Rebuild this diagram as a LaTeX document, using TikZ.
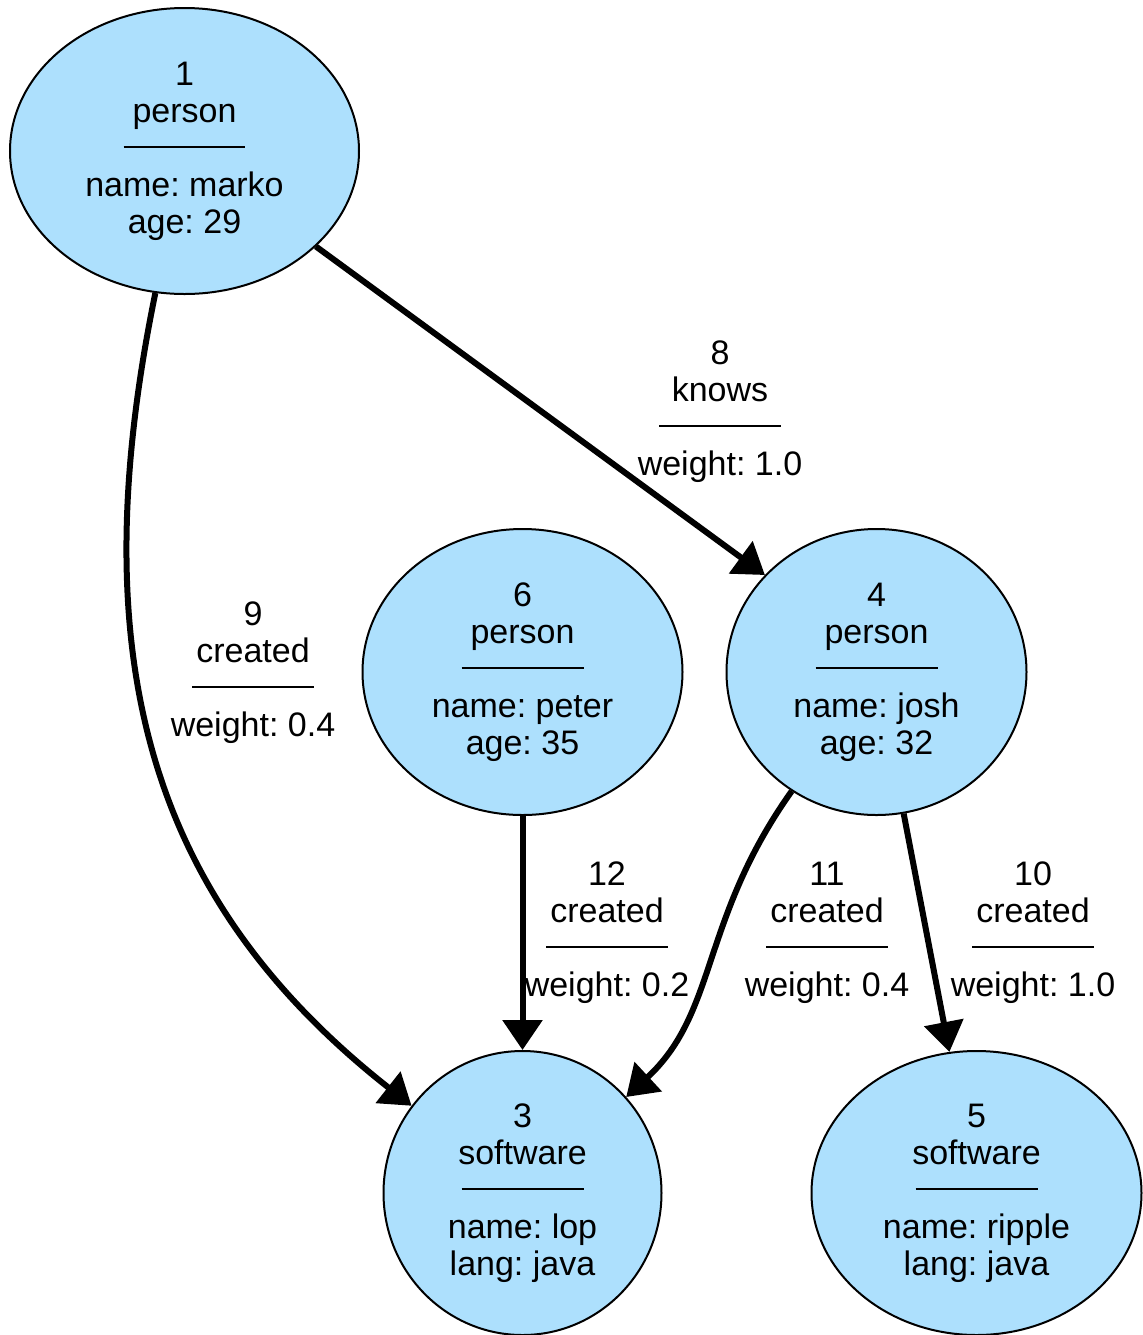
\documentclass[tikz,border=0pt]{standalone}
\usepackage{fontspec}
\setmainfont{Liberation Sans}
\usepackage{tikz}
\usetikzlibrary{shapes,arrows.meta,positioning}
\definecolor{vertexblue}{RGB}{173, 224, 253}
\newcommand{\divline}{\rule[5.8pt]{61pt}{1pt}}
\frenchspacing

\begin{document}
\begin{tikzpicture}[x=0.5pt, y=-0.5pt]
    \tikzstyle{vertex} = [ellipse, draw=black, line width=1pt, fill=vertexblue, inner sep=0pt, font=\fontsize{17pt}{18.5pt}\selectfont, align=center]
    \tikzstyle{elabel} = [inner sep=0pt, font=\fontsize{17pt}{18.5pt}\selectfont, align=center]
    \tikzstyle{darrow} = [line width=3pt, -{Triangle[length=15pt, width=19.5pt]}, black]

    \useasboundingbox (0, 0) rectangle (1143, 1335);

    \node[vertex, minimum width=174.5pt, minimum height=143pt] (n1) at (184.5, 151) {1\\person\\\divline\\name: marko\\age: 29};
    \node[vertex, minimum width=160pt, minimum height=143pt] (n6) at (522.5, 672) {6\\person\\\divline\\name: peter\\age: 35};
    \node[vertex, minimum width=150pt, minimum height=143pt] (n4) at (876.5, 672) {4\\person\\\divline\\name: josh\\age: 32};
    \node[vertex, minimum width=139pt, minimum height=142pt] (n3) at (522.5, 1193) {3\\software\\\divline\\name: lop\\lang: java};
    \node[vertex, minimum width=165pt, minimum height=142pt] (n5) at (976.5, 1193) {5\\software\\\divline\\name: ripple\\lang: java};

    \node[elabel] (e8) at (720, 412) {8\\knows\\\divline\\weight: 1.0};
    \node[elabel] (e9) at (253, 673) {9\\created\\\divline\\weight: 0.4};
    \node[elabel] (e12) at (607, 933) {12\\created\\\divline\\weight: 0.2};
    \node[elabel] (e11) at (827, 933) {11\\created\\\divline\\weight: 0.4};
    \node[elabel] (e10) at (1033, 933) {10\\created\\\divline\\weight: 1.0};

    % Edges
    \draw[darrow] (n1.-36) -- (n4.139.5);
    \draw[darrow] (n1) .. controls (80, 660) and (150, 900) .. (n3);
    \draw[darrow] (n6) -- (n3);
    \draw[darrow] (n4) .. controls (700, 920) and (718, 1012) .. (n3);
    \draw[darrow] (n4) -- (n5);
\end{tikzpicture}
\end{document}
